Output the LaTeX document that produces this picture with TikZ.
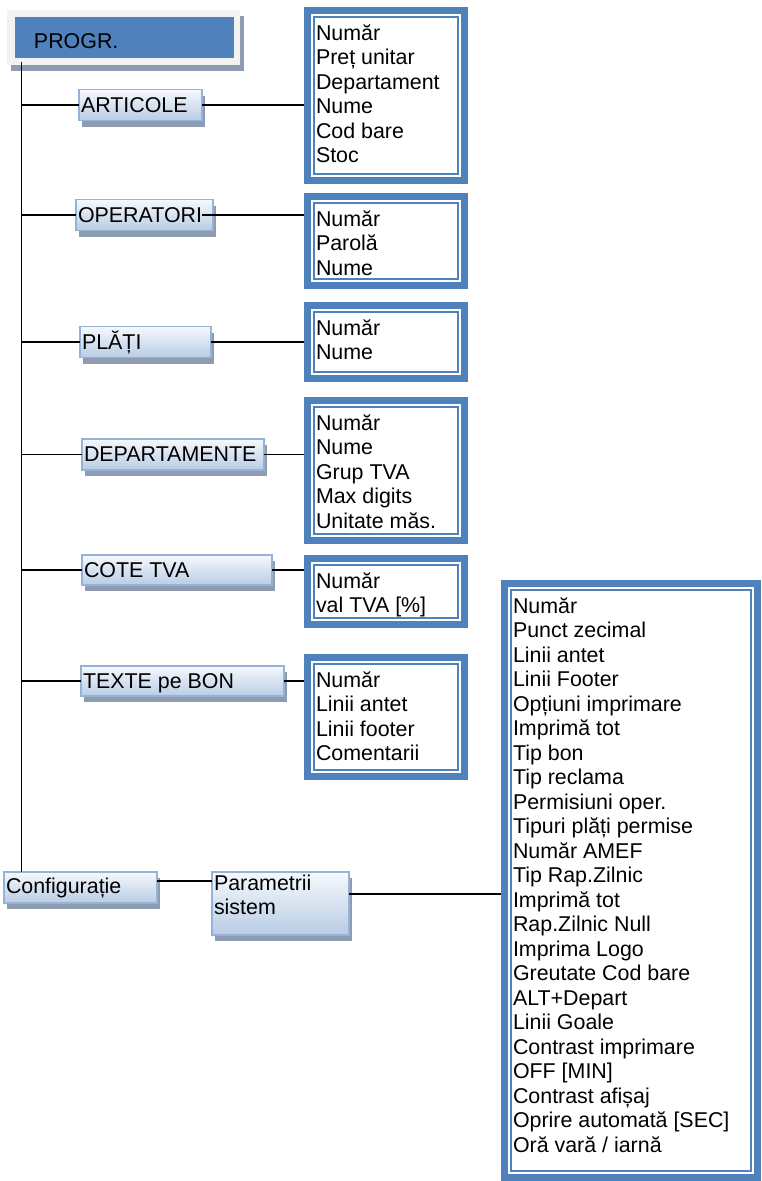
\documentclass[tikz,border=0pt]{standalone}
\usepackage{fontspec}
\setmainfont{Liberation Sans}
\usetikzlibrary{shadows}
\definecolor{dblue}{RGB}{79,129,189}
\definecolor{lblue}{RGB}{149,179,215}
\definecolor{gbot}{RGB}{184,204,228}
\definecolor{gtop}{RGB}{246,249,253}
\definecolor{shad}{RGB}{142,155,176}
\definecolor{framegray}{RGB}{242,242,242}
\newcommand\firstln{\rule{0pt}{17pt}}
\begin{document}
\begin{tikzpicture}[x=1pt,y=-1pt,
  every node/.style={font=\fontsize{21.4}{24.5}\selectfont, inner sep=0pt, outer sep=0pt},
  conn/.style={line width=1.8pt, black},
  menubox/.style={draw=lblue, line width=1.5pt, top color=gtop, bottom color=gbot, anchor=north west,
     drop shadow={shadow xshift=3pt, shadow yshift=-6pt, fill=shad, opacity=1}},
  detail/.style={fill=dblue, anchor=north west},
  lbl/.style={anchor=base west},
  list/.style={anchor=north west, align=left},
]
\useasboundingbox (0,0) rectangle (762,1181);
\fill[white] (0,0) rectangle (762,1181);

% root
\node[fill=framegray, anchor=north west, minimum width=233pt, minimum height=55pt,
      drop shadow={shadow xshift=4pt, shadow yshift=-6pt, fill=shad, opacity=1}] (pframe) at (7,10) {};
\node[fill=dblue, anchor=north west, minimum width=219pt, minimum height=41pt] (progr) at (15,17) {};
\node[lbl] (progrt) at ([xshift=19pt,yshift=-10.5pt]progr.west) {PROGR.};
\coordinate (tr) at (21.5,62);

% menu boxes
\node[menubox, minimum width=123pt, minimum height=31pt] (art)   at (79,89.5) {};
\node[menubox, minimum width=137pt, minimum height=31pt] (op)    at (76,199.5) {};
\node[menubox, minimum width=131pt, minimum height=31pt] (pl)    at (80,326.5) {};
\node[menubox, minimum width=182pt, minimum height=31pt] (dep)   at (82,439) {};
\node[menubox, minimum width=190pt, minimum height=30pt] (cote)  at (82,555) {};
\node[menubox, minimum width=203pt, minimum height=30pt] (texte) at (81,666) {};
\node[menubox, minimum width=153pt, minimum height=31pt] (config) at (4,872) {};
\node[menubox, minimum width=137pt, minimum height=63pt] (param) at (212,872) {};

\node[lbl] (artt)   at ([xshift=2pt,yshift=-7pt]art.west) {ARTICOLE};
\node[lbl] (opt)    at ([xshift=2pt,yshift=-7pt]op.west) {OPERATORI};
\node[lbl] (plt)    at ([xshift=2pt,yshift=-7pt]pl.west) {PLĂȚI};
\node[lbl] (dept)   at ([xshift=2pt,yshift=-7pt]dep.west) {DEPARTAMENTE};
\node[lbl] (cotet)  at ([xshift=2pt,yshift=-7pt]cote.west) {COTE TVA};
\node[lbl] (textet) at ([xshift=2pt,yshift=-7pt]texte.west) {TEXTE pe BON};
\node[lbl] (configt) at ([xshift=2pt,yshift=-5.5pt]config.west) {Configurație};
\node[list] (paramt) at ([xshift=2pt,yshift=-1pt]param.north west) {\firstln Parametrii\\sistem};

% detail boxes
\node[detail, minimum width=164pt, minimum height=177pt] (d1) at (304,7) {};
\node[detail, minimum width=164pt, minimum height=96pt]  (d2) at (304,193) {};
\node[detail, minimum width=164pt, minimum height=80pt]  (d3) at (304,302) {};
\node[detail, minimum width=164pt, minimum height=147pt] (d4) at (304,397) {};
\node[detail, minimum width=164pt, minimum height=73pt]  (d5) at (304,555) {};
\node[detail, minimum width=164pt, minimum height=126pt] (d6) at (304,654) {};
\node[detail, minimum width=260pt, minimum height=601pt] (d7) at (501,580) {};
\foreach \n in {d1,d2,d3,d4,d5,d6,d7}{
  \fill[white] ([xshift=7pt,yshift=-7pt]\n.north west) rectangle ([xshift=-7pt,yshift=7pt]\n.south east);
  \draw[dblue, line width=2pt] ([xshift=10pt,yshift=-10pt]\n.north west) rectangle ([xshift=-10pt,yshift=10pt]\n.south east);
}

\node[list] (l1) at ([xshift=12pt,yshift=-16pt]d1.north west)
  {\firstln Număr\\Preț unitar\\Departament\\Nume\\Cod bare\\Stoc};
\node[list] (l2) at ([xshift=12pt,yshift=-16pt]d2.north west)
  {\firstln Număr\\Parolă\\Nume};
\node[list] (l3) at ([xshift=12pt,yshift=-16pt]d3.north west)
  {\firstln Număr\\Nume};
\node[list] (l4) at ([xshift=12pt,yshift=-16pt]d4.north west)
  {\firstln Număr\\Nume\\Grup TVA\\Max digits\\Unitate măs.};
\node[list] (l5) at ([xshift=12pt,yshift=-16pt]d5.north west)
  {\firstln Număr\\val TVA [\%]};
\node[list] (l6) at ([xshift=12pt,yshift=-16pt]d6.north west)
  {\firstln Număr\\Linii antet\\Linii footer\\Comentarii};
\node[list] (l7) at ([xshift=12pt,yshift=-16pt]d7.north west)
  {\firstln Număr\\Punct zecimal\\Linii antet\\Linii Footer\\Opțiuni imprimare\\Imprimă tot\\Tip bon\\Tip reclama\\Permisiuni oper.\\Tipuri plăți permise\\Număr AMEF\\Tip Rap.Zilnic\\Imprimă tot\\Rap.Zilnic Null\\Imprima Logo\\Greutate Cod bare\\ALT+Depart\\Linii Goale\\Contrast imprimare\\OFF [MIN]\\Contrast afișaj\\Oprire automată [SEC]\\Oră vară / iarnă};

% connectors
\draw[conn] (tr) -- (tr |- config.north);
\foreach \b/\d in {art/d1, pl/d3, dep/d4, cote/d5, texte/d6}{
  \draw[conn] (\b.west -| tr) -- (\b.west);
  \draw[conn] (\b.east) -- (\b.east -| \d.west);
}
\draw[conn] (op.west -| tr) -- (op.west);
\draw[conn] ([xshift=-11pt]op.east) -- (op.east -| d2.west);
\draw[conn] ([yshift=6.5pt]config.east) -- ([yshift=6.5pt]config.east -| param.west);
\draw[conn] ([yshift=9.5pt]param.east) -- ([yshift=9.5pt]param.east -| d7.west);
\end{tikzpicture}
\end{document}
